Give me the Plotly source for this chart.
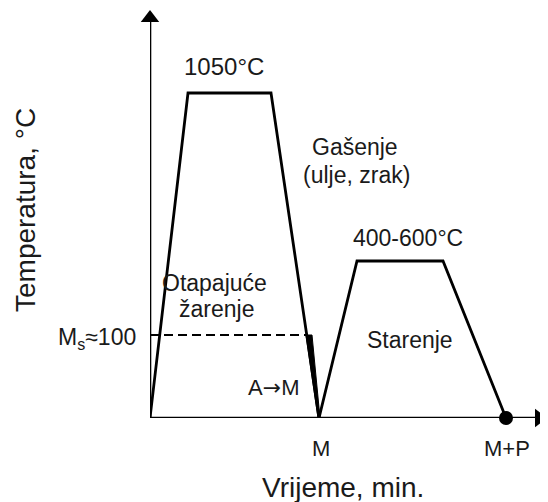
import plotly.graph_objects as go

# Schematic heat-treatment cycle (arbitrary time / temperature units)
solution_time = [0, 38, 121, 169]
solution_temp = [0, 325, 325, 0]
aging_time = [169, 207, 293, 356]
aging_temp = [0, 157, 157, 0]
ms_level = 83
quench_wedge_time = [156, 162, 170, 168, 156]
quench_wedge_temp = [ms_level, ms_level, 0, 0, ms_level]
end_point_time = [356]
end_point_temp = [0]

x_max, y_max = 397, 408
FONT = "Liberation Sans, Arial, sans-serif"
TXT = "#1a1a1a"

fig = go.Figure()
# axes lines with arrowheads
fig.add_trace(go.Scatter(x=[0, x_max - 8], y=[0, 0], mode="lines",
                         line=dict(color="black", width=2.6), hoverinfo="skip", cliponaxis=False))
fig.add_trace(go.Scatter(x=[0, 0], y=[0, y_max - 8], mode="lines",
                         line=dict(color="black", width=2.6), hoverinfo="skip", cliponaxis=False))
fig.add_trace(go.Scatter(x=[x_max - 8], y=[0], mode="markers",
                         marker=dict(symbol="triangle-right", size=16, color="black",
                                     line=dict(width=0)),
                         hoverinfo="skip", cliponaxis=False))
fig.add_trace(go.Scatter(x=[0], y=[y_max - 8], mode="markers",
                         marker=dict(symbol="triangle-up", size=16, color="black",
                                     line=dict(width=0)),
                         hoverinfo="skip", cliponaxis=False))

fig.add_trace(go.Scatter(x=solution_time, y=solution_temp, mode="lines",
                         line=dict(color="black", width=2.8), hoverinfo="skip"))
fig.add_trace(go.Scatter(x=aging_time, y=aging_temp, mode="lines",
                         line=dict(color="black", width=2.8), hoverinfo="skip"))
fig.add_trace(go.Scatter(x=[0, quench_wedge_time[0]], y=[ms_level, ms_level], mode="lines",
                         line=dict(color="black", width=2.2, dash="9px,5px"), hoverinfo="skip"))
fig.add_trace(go.Scatter(x=quench_wedge_time, y=quench_wedge_temp, mode="lines",
                         fill="toself", fillcolor="black",
                         line=dict(color="black", width=1), hoverinfo="skip"))
fig.add_trace(go.Scatter(x=end_point_time, y=end_point_temp, mode="markers",
                         marker=dict(color="black", size=14), hoverinfo="skip", cliponaxis=False))

def paper(xp, yp):
    return (xp - 150) / x_max, (418 - yp) / y_max

def label(text, xp, yp, size, anchor="center", angle=0):
    x, y = paper(xp, yp)
    fig.add_annotation(x=x, y=y, xref="paper", yref="paper", text=text, showarrow=False,
                       xanchor=anchor, yanchor="middle", textangle=angle,
                       font=dict(family=FONT, size=size, color=TXT))

label("1050°C", 224, 67, 24)
label("Gašenje", 355, 147, 23)
label("(ulje, zrak)", 356, 175, 23)
label("400-600°C", 408, 238, 23)
label("Otapajuće", 214, 283, 23)
label("žarenje", 216, 309, 23)
label("Starenje", 410, 340, 23)
label("A<span style='font-family:DejaVu Sans'>→</span>M", 273, 387, 22)
label("M", 321, 448, 22)
label("M+P", 507, 448, 22)
label("M<sub>s</sub>≈100", 138, 338, 23, anchor="right")
label("Vrijeme, min.", 343, 487, 28)
label("Temperatura, °C", 25, 210, 28, angle=-90)

# page body has an 8px margin: figure is offset so plot area sits at 150..547 x 10..418
fig.update_layout(
    width=540, height=494,
    margin=dict(l=142, r=1, t=2, b=84),
    paper_bgcolor="white", plot_bgcolor="white",
    showlegend=False,
    xaxis=dict(range=[0, x_max], visible=False, fixedrange=True),
    yaxis=dict(range=[0, y_max], visible=False, fixedrange=True),
)
fig.write_html("out.html")
